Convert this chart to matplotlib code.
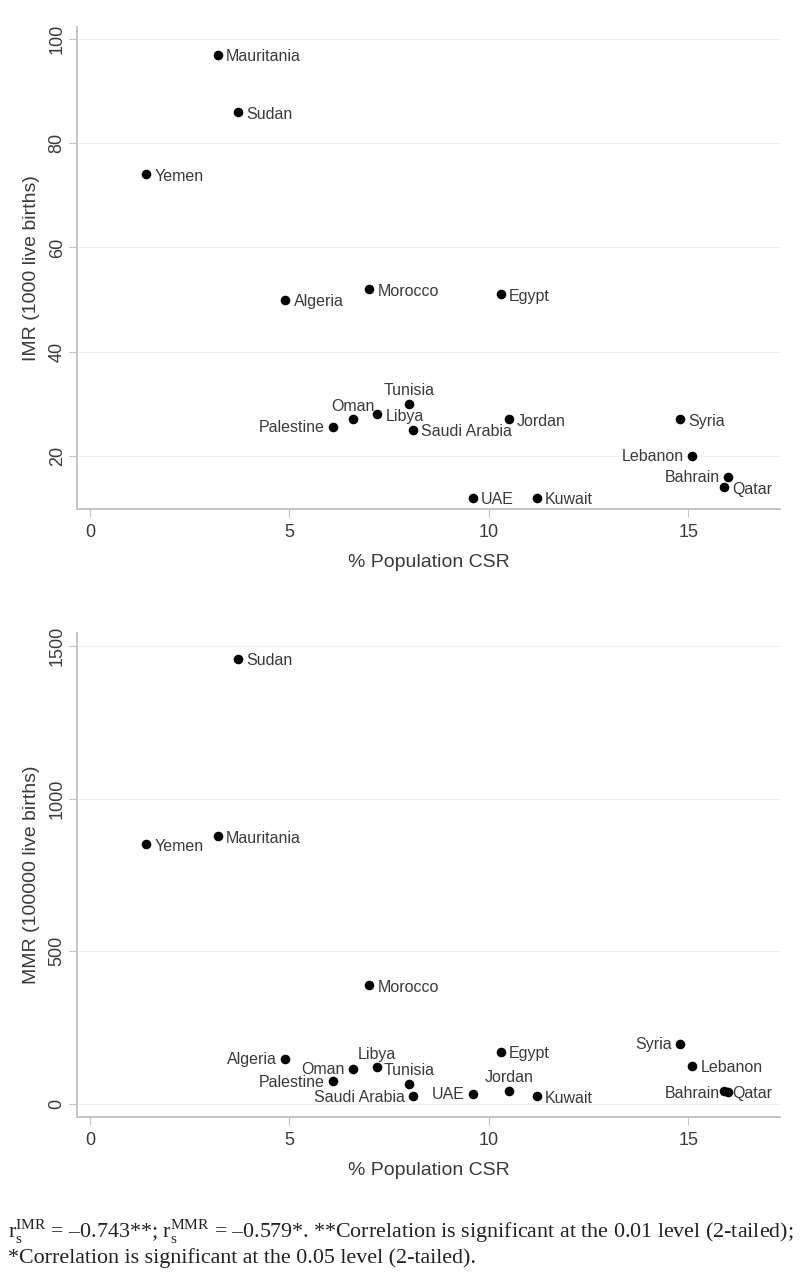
import matplotlib
matplotlib.use('Agg')
import matplotlib.pyplot as plt

countries = ['Mauritania', 'Sudan', 'Yemen', 'Algeria', 'Morocco', 'Egypt', 'Tunisia', 'Libya', 'Oman',
             'Palestine', 'Saudi Arabia', 'Jordan', 'Syria', 'Lebanon', 'Bahrain', 'Qatar', 'UAE', 'Kuwait']
csr = [3.2, 3.7, 1.4, 4.9, 7.0, 10.3, 8.0, 7.2, 6.6, 6.1, 8.1, 10.5, 14.8, 15.1, 16.0, 15.9, 9.6, 11.2]
imr = [97, 86, 74, 50, 52, 51, 30, 28, 27, 25.5, 25, 27, 27, 20, 16, 14, 12, 12]
mmr = [876, 1457, 851, 148, 390, 172, 67, 120, 115, 74, 25, 43, 197, 126, 38, 43, 33, 25]

x_ticks = [0, 5, 10, 15]
imr_ticks = [20, 40, 60, 80, 100]
mmr_ticks = [0, 500, 1000, 1500]

# where each country name sits: r = right, l = left, u = above
pos_imr = ['r', 'r', 'r', 'r', 'r', 'r', 'u', 'r', 'u', 'l', 'r', 'r', 'r', 'l', 'l', 'r', 'r', 'r']
pos_mmr = ['r', 'r', 'r', 'l', 'r', 'r', 'u', 'u', 'l', 'l', 'l', 'u', 'l', 'r', 'l', 'r', 'l', 'r']

plt.rcParams['font.family'] = ['Liberation Sans', 'DejaVu Sans']
plt.rcParams['mathtext.fontset'] = 'custom'
plt.rcParams['mathtext.rm'] = 'Liberation Serif'

text_color = '#3a3a3a'
axis_color = '#c4c4c4'


def scatter_panel(ax, y, pos, ylabel, yticks, ylim):
    ax.scatter(csr, y, s=48, color='black', zorder=3, linewidths=0)
    for name, xv, yv, p in zip(countries, csr, y, pos):
        if p == 'r':
            off, ha, va = (6, -1.5), 'left', 'center'
        elif p == 'l':
            off, ha, va = (-6, -0.5), 'right', 'center'
        else:
            off, ha, va = (0, 4), 'center', 'bottom'
        ax.annotate(name, (xv, yv), xytext=off, textcoords='offset points',
                    ha=ha, va=va, fontsize=11.5, color=text_color)
    ax.set_xlim(-0.33, 17.3)
    ax.set_ylim(*ylim)
    ax.set_xticks(x_ticks)
    ax.set_yticks(yticks)
    ax.set_yticklabels([str(t) for t in yticks], rotation=90, va='center')
    ax.tick_params(axis='both', colors=axis_color, labelcolor=text_color, labelsize=13,
                   length=6, width=0.8)
    ax.tick_params(axis='x', pad=5)
    ax.tick_params(axis='y', pad=2)
    ax.grid(axis='y', color='#efefef', linewidth=0.8)
    ax.set_axisbelow(True)
    for side in ['top', 'right']:
        ax.spines[side].set_visible(False)
    for side in ['left', 'bottom']:
        ax.spines[side].set_color(axis_color)
        ax.spines[side].set_linewidth(1.4)
    ax.set_xlabel('% Population CSR', fontsize=14, color=text_color, labelpad=9)
    ax.set_ylabel(ylabel, fontsize=14, color=text_color, labelpad=6)


fig = plt.figure(figsize=(8, 12.87), dpi=100)

ax1 = fig.add_axes([0.096, 0.6045, 0.879, 0.3745])
scatter_panel(ax1, imr, pos_imr, 'IMR (1000 live births)', imr_ticks, (9.8, 102.3))

ax2 = fig.add_axes([0.096, 0.132, 0.879, 0.376])
scatter_panel(ax2, mmr, pos_mmr, 'MMR (100000 live births)', mmr_ticks, (-42.6, 1541))

note1 = (r'r$_{\rm s}^{\rm IMR}$ = –0.743**; r$_{\rm s}^{\rm MMR}$ = –0.579*. '
         '**Correlation is significant at the 0.01 level (2-tailed);')
note2 = '*Correlation is significant at the 0.05 level (2-tailed).'
fig.text(0.01, 1 - 1232 / 1287, note1, family='Liberation Serif', fontsize=15.8, color='#222222', va='center')
fig.text(0.01, 1 - 1258 / 1287, note2, family='Liberation Serif', fontsize=15.8, color='#222222', va='center')

fig.savefig('out.png', dpi=100)
